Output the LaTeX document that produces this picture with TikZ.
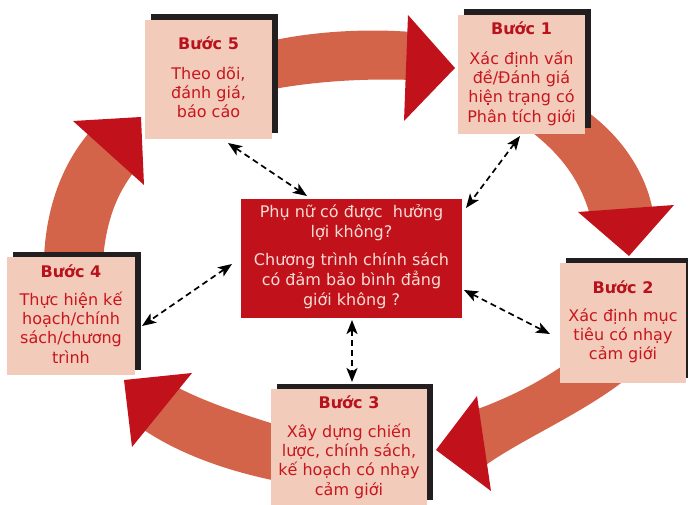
\documentclass[tikz,border=0pt]{standalone}
\usepackage{fontspec}
\setmainfont{DejaVu Sans}
\usetikzlibrary{arrows.meta}
\definecolor{pinkfill}{HTML}{F2CBBA}
\definecolor{shadowc}{HTML}{231F20}
\definecolor{bandc}{HTML}{D3644A}
\definecolor{arrred}{HTML}{C1121C}
\definecolor{titlered}{HTML}{B8121C}
\definecolor{bodyred}{HTML}{C8161E}
\definecolor{ctext}{HTML}{F7DCD5}
\tikzset{
  band/.style={fill=bandc, draw=none},
  headtri/.style={fill=arrred, draw=none},
  shadowbox/.style={fill=shadowc, draw=none, inner sep=0pt},
  pinkbox/.style={fill=pinkfill, draw=none, inner sep=0pt},
  centerbox/.style={fill=arrred, draw=none, inner sep=0pt},
  steptext/.style={inner sep=0pt, anchor=base, text=bodyred, font=\fontsize{16}{19.3}\selectfont},
  ctextstyle/.style={inner sep=0pt, anchor=base, text=ctext, font=\fontsize{16}{19.8}\selectfont},
  dasharrow/.style={draw=black, line width=1.7pt, dash pattern=on 6pt off 4pt,
    {Stealth[length=14pt,width=11pt,inset=3.5pt]}-{Stealth[length=14pt,width=11pt,inset=3.5pt]}}
}
\newcommand{\steptitle}[1]{\textcolor{titlered}{\textbf{#1}}}
\begin{document}
\begin{tikzpicture}[x=1pt,y=-1pt]
\useasboundingbox (0,0) rectangle (688,505);
% ring segments
\fill[band] (250,46) .. controls (300,32) and (360,28) .. (412,32)
  -- (412,80) .. controls (360,78) and (300,82) .. (250,94) -- cycle;
\fill[band] (560,95) .. controls (610,120) and (645,165) .. (653,212)
  -- (590,215) .. controls (580,180) and (560,150) .. (515,120) -- cycle;
\fill[band] (620,320) .. controls (570,365) and (530,390) .. (475,410)
  -- (483,467) .. controls (520,440) and (580,415) .. (625,380) -- cycle;
\fill[band] (320,438) .. controls (260,420) and (210,405) .. (175,386)
  -- (141,428) .. controls (180,455) and (240,478) .. (320,488) -- cycle;
\fill[band] (45,300) .. controls (38,220) and (60,165) .. (93,128)
  -- (137,168) .. controls (115,195) and (100,230) .. (102,300) -- cycle;
% arrow heads
\fill[headtri] (408,15) -- (455,68) -- (404,121) -- cycle;
\fill[headtri] (578,212) -- (674,205) -- (629,256) -- cycle;
\fill[headtri] (477,396) -- (436,450) -- (491,491) -- cycle;
\fill[headtri] (124,380) -- (192,373) -- (132,447) -- cycle;
\fill[headtri] (73,121) -- (141,117) -- (144,185) -- cycle;
% shadows
\node[shadowbox, minimum width=127pt, minimum height=119pt] (s5) at (214,74) {};
\node[shadowbox, minimum width=127pt, minimum height=119pt] (s1) at (527,69) {};
\node[shadowbox, minimum width=126pt, minimum height=120pt] (s2) at (628.5,317.5) {};
\node[shadowbox, minimum width=128pt, minimum height=118pt] (s4) at (76.5,310.5) {};
\node[shadowbox, minimum width=156pt, minimum height=116pt] (s3) at (354.5,441.5) {};
% boxes
\node[pinkbox, minimum width=127pt, minimum height=119pt] (b5) at (208.5,79.5) {};
\node[pinkbox, minimum width=127pt, minimum height=119pt] (b1) at (521.5,74.5) {};
\node[pinkbox, minimum width=126pt, minimum height=120pt] (b2) at (623,323) {};
\node[pinkbox, minimum width=128pt, minimum height=118pt] (b4) at (71,316) {};
\node[pinkbox, minimum width=156pt, minimum height=116pt] (b3) at (349,447) {};
\node[centerbox, minimum width=221pt, minimum height=119pt] (c) at (351.5,258.5) {};
% texts
\node[steptext] (t5) at (208.5,50) {\parbox[t]{150pt}{\centering\steptitle{Bước 5}\\[10pt]Theo dõi,\\đánh giá,\\báo cáo}};
\node[steptext] (t1) at (521.5,35) {\parbox[t]{150pt}{\centering\steptitle{Bước 1}\\[10pt]Xác định vấn\\đề/Đánh giá\\hiện trạng có\\Phân tích giới}};
\node[steptext] (t2) at (623,293) {\parbox[t]{150pt}{\centering\steptitle{Bước 2}\\[9pt]Xác định mục\\tiêu có nhạy\\cảm giới}};
\node[steptext] (t4) at (71,277) {\parbox[t]{150pt}{\centering\steptitle{Bước 4}\\[9pt]Thực hiện kế\\hoạch/chính\\sách/chương\\trình}};
\node[steptext] (t3) at (349,408) {\parbox[t]{170pt}{\centering\steptitle{Bước 3}\\[10pt]Xây dựng chiến\\lược, chính sách,\\kế hoạch có nhạy\\cảm giới}};
\node[ctextstyle] (ct) at (351.5,218) {\parbox[t]{220pt}{\centering Phụ nữ có được\ \ hưởng\\lợi không?\\[8pt]Chương trình chính sách\\có đảm bảo bình đẳng\\giới không ?}};
% dashed connectors
\coordinate (p5) at (228,143); \coordinate (q5) at (307,196);
\coordinate (p1) at (520,136); \coordinate (q1) at (466,208);
\coordinate (p2) at (550,334); \coordinate (q2) at (464,290);
\coordinate (p4) at (142,326); \coordinate (q4) at (232,264);
\coordinate (p3) at (352,382); \coordinate (q3) at (352,320);
\draw[dasharrow] (p5) -- (q5);
\draw[dasharrow] (p1) -- (q1);
\draw[dasharrow] (q2) -- (p2);
\draw[dasharrow] (q4) -- (p4);
\draw[dasharrow] (q3) -- (p3);
\end{tikzpicture}
\end{document}
